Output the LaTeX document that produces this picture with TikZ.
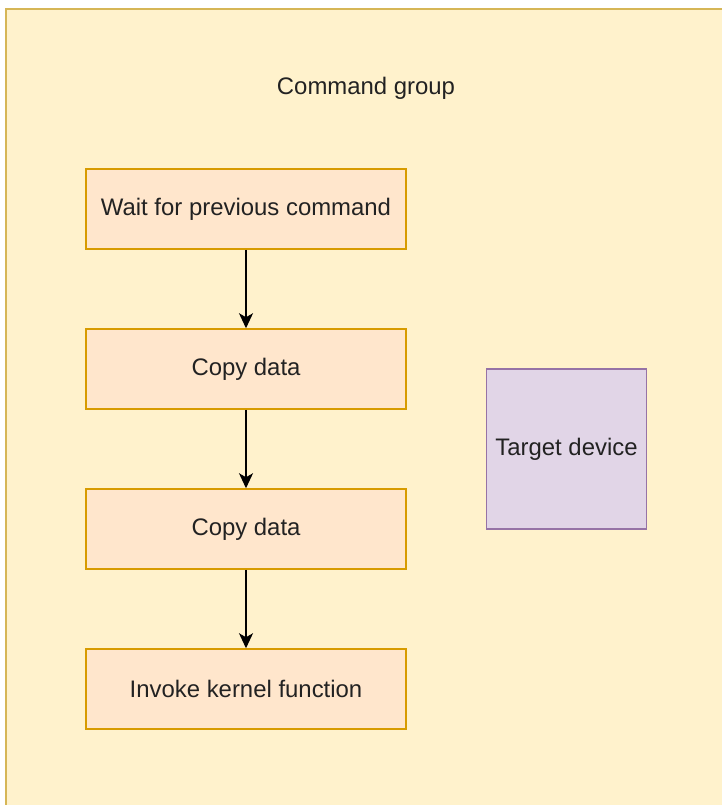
\documentclass[tikz,border=0pt]{standalone}
\usepackage{fontspec}
\setmainfont{Liberation Sans}
\usetikzlibrary{arrows.meta}
\definecolor{groupfill}{HTML}{FFF2CC}
\definecolor{groupline}{HTML}{D6B656}
\definecolor{stepfill}{HTML}{FFE6CC}
\definecolor{stepline}{HTML}{D79B00}
\definecolor{devfill}{HTML}{E1D5E7}
\definecolor{devline}{HTML}{9673A6}
\definecolor{txt}{HTML}{222222}
\tikzset{
  label font/.style={font=\fontsize{24}{28}\selectfont, text=txt},
  stepbox/.style={draw=stepline, fill=stepfill, line width=1.5bp,
    minimum width=320bp, minimum height=80bp, inner sep=0pt, label font},
  devbox/.style={draw=devline, fill=devfill, line width=1.5bp,
    minimum width=160bp, minimum height=160bp, inner sep=0pt, label font},
  flow/.style={-{Stealth[length=15bp,width=14bp,inset=4bp]}, line width=1.5bp, black}
}
\begin{document}
\begin{tikzpicture}[x=1bp, y=-1bp]
  \useasboundingbox (0,0) rectangle (722,805);
  \clip (0,0) rectangle (722,805);
  % command group container
  \draw[draw=groupline, fill=groupfill, line width=2bp] (6,9) rectangle (760,840);
  \node[label font] (title) at (366,88) {Command group};
  % steps of the command group
  \node[stepbox] (wait) at (246,209) {Wait for previous command};
  \node[stepbox] (copyA) at (246,369) {Copy data};
  \node[stepbox] (copyB) at (246,529) {Copy data};
  \node[stepbox] (invoke) at (246,689) {Invoke kernel function};
  % device
  \node[devbox] (dev) at (566.5,449) {Target device};
  \draw[flow] (wait) -- (copyA);
  \draw[flow] (copyA) -- (copyB);
  \draw[flow] (copyB) -- (invoke);
\end{tikzpicture}
\end{document}
